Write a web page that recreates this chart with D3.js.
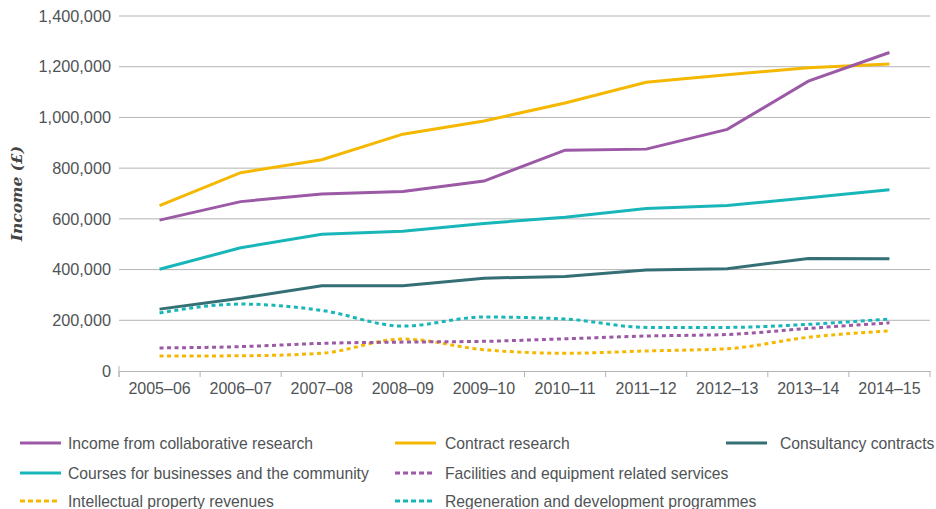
<!DOCTYPE html>
<html><head><meta charset="utf-8">
<script src="https://cdn.jsdelivr.net/npm/d3@7"></script>
<style>body{margin:0;background:#fff}svg{display:block}</style>
</head><body>
<svg id="chart" width="936" height="509"></svg>
<script>
const categories = ["2005–06","2006–07","2007–08","2008–09","2009–10","2010–11","2011–12","2012–13","2013–14","2014–15"];
const yTicks = [0,200000,400000,600000,800000,1000000,1200000,1400000];

const collaborative = [595000,668000,698000,708000,749000,871000,875000,953000,1143000,1256000];
const contract = [652000,782000,833000,934000,986000,1057000,1139000,1168000,1196000,1211000];
const consultancy = [244000,287000,336000,336000,366000,373000,398000,403000,444000,443000];
const courses = [401000,486000,539000,551000,582000,606000,641000,653000,683000,715000];
const facilities = [91000,96000,109000,114000,117000,127000,138000,144000,168000,190000];
const ipRevenues = [59000,60000,70000,126000,84000,70000,79000,88000,133000,158000];
const regeneration = [229000,264000,239000,177000,213000,205000,172000,172000,184000,205000];

const seriesNames = ["Income from collaborative research","Contract research","Consultancy contracts","Courses for businesses and the community","Facilities and equipment related services","Intellectual property revenues","Regeneration and development programmes"];
const seriesValues = [collaborative, contract, consultancy, courses, facilities, ipRevenues, regeneration];
const seriesColors = ["#9b59a6","#f5b800","#346f75","#19b6b9","#9b59a6","#f5b800","#19b6b9"];
const seriesDashed = [false,false,false,false,true,true,true];

const svg = d3.select("#chart");
const m = {left:119, right:6, top:16, bottom:138};
const W = 936, H = 509;
const x = d3.scaleBand().domain(categories).range([m.left, W - m.right]);
const y = d3.scaleLinear().domain([0,1400000]).range([H - m.bottom, m.top]);
const font = "'Liberation Sans', Arial, sans-serif";
const textColor = "#4f5355";

// gridlines
svg.append("g").selectAll("line").data(yTicks.filter(d=>d>0)).join("line")
  .attr("x1", m.left).attr("x2", W - m.right)
  .attr("y1", d=>y(d)).attr("y2", d=>y(d))
  .attr("stroke","#b4b4b4").attr("stroke-width",1);

// y axis labels
const yAxis = svg.append("g").attr("transform",`translate(${m.left},0)`)
  .call(d3.axisLeft(y).tickValues(yTicks).tickSize(0).tickPadding(8).tickFormat(d3.format(",")));
yAxis.select(".domain").remove();
yAxis.selectAll("text").attr("font-family",font).attr("font-size",16.3).attr("fill",textColor);

// x axis
const xAxis = svg.append("g").attr("transform",`translate(0,${y(0)})`)
  .call(d3.axisBottom(x).tickSize(0).tickPadding(12));
xAxis.select(".domain").attr("stroke","#b4b4b4");
xAxis.selectAll("text").attr("font-family",font).attr("font-size",16).attr("fill",textColor);
// boundary tick marks
svg.append("g").selectAll("line").data(categories.concat(["__end"])).join("line")
  .attr("x1",(d,i)=> m.left + i*x.bandwidth()).attr("x2",(d,i)=> m.left + i*x.bandwidth())
  .attr("y1", y(0)).attr("y2", y(0)+6).attr("stroke","#b4b4b4");
svg.append("line").attr("x1",m.left).attr("x2",m.left).attr("y1",y(0)-5).attr("y2",y(0)+6).attr("stroke","#b4b4b4");

// y title
svg.append("text").attr("transform",`translate(22,${(y(0)+y(1400000))/2}) rotate(-90)`)
  .attr("text-anchor","middle").attr("font-family","'DejaVu Serif', Georgia, serif")
  .attr("font-style","italic").attr("font-weight","bold").attr("font-size",15.5).attr("fill","#444")
  .text("Income (£)");

// lines
const lineSolid = d3.line().x((d,i)=>x(categories[i]) + x.bandwidth()/2).y(d=>y(d));
const lineCurve = d3.line().x((d,i)=>x(categories[i]) + x.bandwidth()/2).y(d=>y(d)).curve(d3.curveMonotoneX);
const drawOrder = [6,5,4,2,3,1,0];
drawOrder.forEach(k=>{
  svg.append("path").datum(seriesValues[k])
    .attr("d", seriesDashed[k] ? lineCurve : lineSolid)
    .attr("fill","none").attr("stroke",seriesColors[k]).attr("stroke-width",3)
    .attr("stroke-dasharray", seriesDashed[k] ? "4,3.5" : null);
});

// legend
const legendPos = [[0,0],[1,0],[2,0],[0,1],[1,1],[0,2],[1,2]];
const colX = [20,395,726];
const rowY = [443,473,501];
const lg = svg.append("g");
seriesNames.forEach((name,k)=>{
  const [c,r] = legendPos[k];
  const g = lg.append("g").attr("transform",`translate(${colX[c]},${rowY[r]})`);
  g.append("line").attr("x1",0).attr("x2",seriesDashed[k]?38:41).attr("y1",0).attr("y2",0)
    .attr("stroke",seriesColors[k]).attr("stroke-width",3)
    .attr("stroke-dasharray", seriesDashed[k] ? "5,3" : null);
  g.append("text").attr("x", c===2 ? 54 : (c===1 ? 50 : 48)).attr("y",0).attr("dy","0.35em")
    .attr("font-family",font).attr("font-size",15.7).attr("fill",textColor).text(name);
});
</script>
</body></html>
